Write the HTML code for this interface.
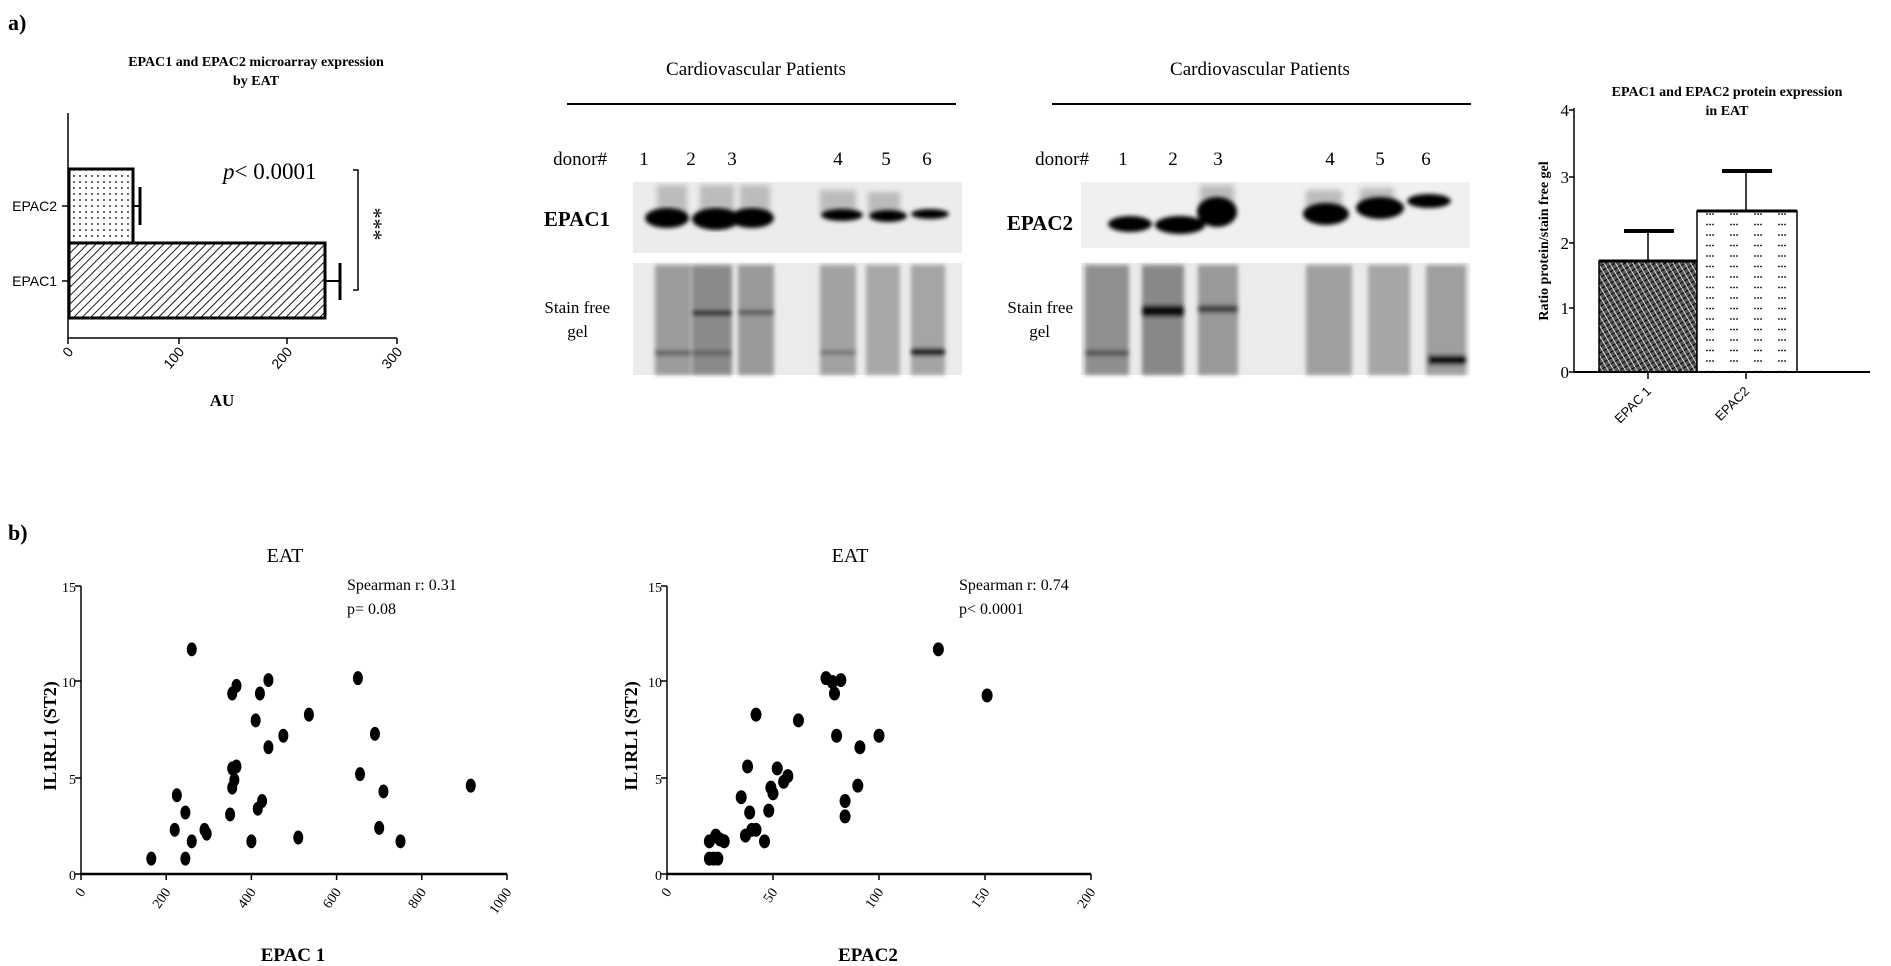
<!DOCTYPE html>
<html><head><meta charset="utf-8"><style>
html,body{margin:0;padding:0;background:#fff;}
svg{display:block;font-family:"Liberation Serif",serif;}
</style></head><body>
<svg id="s" width="1891" height="966" viewBox="0 0 1891 966" xmlns="http://www.w3.org/2000/svg">
<defs>
<pattern id="dots" width="6" height="6" patternUnits="userSpaceOnUse"><rect width="6" height="6" fill="#fff"/><circle cx="2" cy="2" r="0.9" fill="#000"/></pattern>
<pattern id="hatch" width="6" height="6" patternUnits="userSpaceOnUse" patternTransform="rotate(45)"><rect width="6" height="6" fill="#fff"/><line x1="0" y1="0" x2="0" y2="6" stroke="#000" stroke-width="1.8"/></pattern>
<pattern id="cross" width="5" height="5" patternUnits="userSpaceOnUse" patternTransform="rotate(60)"><rect width="5" height="5" fill="#555"/><line x1="0" y1="0" x2="0" y2="5" stroke="#000" stroke-width="2"/><line x1="0" y1="2.5" x2="5" y2="2.5" stroke="#fff" stroke-width="0.8"/></pattern>
<pattern id="dots2" width="24" height="10.5" patternUnits="userSpaceOnUse"><rect width="24" height="10.5" fill="#fff"/><circle cx="3" cy="4" r="0.9"/><circle cx="6" cy="4" r="0.9"/><circle cx="9" cy="4" r="0.9"/></pattern>
<filter id="b3"><feGaussianBlur stdDeviation="3"/></filter>
<filter id="b2"><feGaussianBlur stdDeviation="2"/></filter>
</defs>

<text x="8" y="30" font-size="22" font-weight="bold">a)</text>
<text x="8" y="540" font-size="22" font-weight="bold">b)</text>

<!-- Left horizontal bar chart -->
<g font-weight="bold">
<text x="256" y="66" font-size="14" text-anchor="middle">EPAC1 and EPAC2 microarray expression</text>
<text x="256" y="85" font-size="14" text-anchor="middle">by EAT</text>
</g>
<rect x="69" y="169" width="64" height="74" fill="url(#dots)" stroke="#000" stroke-width="3"/>
<rect x="69" y="243" width="256" height="75" fill="url(#hatch)" stroke="#000" stroke-width="3"/>
<line x1="133" y1="206" x2="140" y2="206" stroke="#000" stroke-width="2"/><line x1="140" y1="187" x2="140" y2="225" stroke="#000" stroke-width="3"/>
<line x1="325" y1="281" x2="340" y2="281" stroke="#000" stroke-width="2"/><line x1="340" y1="263" x2="340" y2="300" stroke="#000" stroke-width="3"/>
<line x1="68" y1="113" x2="68" y2="339" stroke="#000" stroke-width="1.5"/>
<line x1="68" y1="338" x2="397" y2="338" stroke="#000" stroke-width="1.5"/>
<g stroke="#000" stroke-width="1.5"><line x1="179" y1="338" x2="179" y2="344"/><line x1="287" y1="338" x2="287" y2="344"/><line x1="397" y1="338" x2="397" y2="344"/><line x1="68" y1="338" x2="68" y2="344"/><line x1="62" y1="206" x2="68" y2="206"/><line x1="62" y1="281" x2="68" y2="281"/></g>
<g font-family="Liberation Sans,sans-serif" font-size="14">
<text x="57" y="211" text-anchor="end">EPAC2</text>
<text x="57" y="286" text-anchor="end">EPAC1</text>
<text transform="translate(74,352) rotate(-50)" text-anchor="end">0</text>
<text transform="translate(185,352) rotate(-50)" text-anchor="end">100</text>
<text transform="translate(293,352) rotate(-50)" text-anchor="end">200</text>
<text transform="translate(403,352) rotate(-50)" text-anchor="end">300</text>
</g>
<text x="222" y="406" font-size="17" font-weight="bold" text-anchor="middle">AU</text>
<text x="223" y="179" font-size="23"><tspan font-style="italic">p</tspan>&lt; 0.0001</text>
<path d="M353 170 H358 V290 H353" fill="none" stroke="#000" stroke-width="1.5"/>
<text transform="translate(367,224) rotate(90)" font-size="22" text-anchor="middle">***</text>

<!-- Blot 1 -->
<text x="756" y="75" font-size="19" text-anchor="middle">Cardiovascular Patients</text>
<line x1="567" y1="104" x2="956" y2="104" stroke="#000" stroke-width="2"/>
<text x="607" y="165" font-size="19" text-anchor="end">donor#</text>
<g font-size="19" text-anchor="middle"><text x="644" y="165">1</text><text x="691" y="165">2</text><text x="732" y="165">3</text><text x="838" y="165">4</text><text x="886" y="165">5</text><text x="927" y="165">6</text></g>
<text x="610" y="226" font-size="21" font-weight="bold" text-anchor="end">EPAC1</text>
<text x="610" y="313" font-size="17" text-anchor="end">Stain free</text>
<text x="588" y="337" font-size="17" text-anchor="end">gel</text>
<rect x="633" y="182" width="329" height="71" fill="#ececec"/>
<g filter="url(#b3)" fill="#bbb"><rect x="657" y="185" width="30" height="30"/><rect x="700" y="185" width="34" height="30"/><rect x="740" y="185" width="30" height="30"/><rect x="820" y="190" width="36" height="24"/><rect x="868" y="192" width="32" height="22"/></g>
<g filter="url(#b2)" fill="#000"><ellipse cx="667" cy="218" rx="22" ry="10"/><ellipse cx="716" cy="219" rx="24" ry="11"/><ellipse cx="752" cy="218" rx="22" ry="10"/><ellipse cx="842" cy="215" rx="21" ry="6"/><ellipse cx="888" cy="216" rx="19" ry="6"/><ellipse cx="930" cy="214" rx="19" ry="5"/></g>
<rect x="633" y="263" width="329" height="112" fill="#ebebeb"/>
<g filter="url(#b2)">
<rect x="655" y="265" width="36" height="110" fill="#9c9c9c"/><rect x="692" y="265" width="40" height="110" fill="#8a8a8a"/><rect x="738" y="265" width="36" height="110" fill="#999"/>
<rect x="820" y="265" width="36" height="110" fill="#a2a2a2"/><rect x="866" y="265" width="34" height="110" fill="#a8a8a8"/><rect x="911" y="265" width="34" height="110" fill="#a5a5a5"/>
<rect x="692" y="310" width="40" height="6" fill="#333"/><rect x="738" y="310" width="36" height="5" fill="#555"/><rect x="911" y="348" width="34" height="8" fill="#222"/>
<rect x="655" y="350" width="36" height="6" fill="#666"/><rect x="692" y="350" width="40" height="6" fill="#666"/><rect x="820" y="350" width="36" height="5" fill="#777"/>
</g>

<!-- Blot 2 -->
<text x="1260" y="75" font-size="19" text-anchor="middle">Cardiovascular Patients</text>
<line x1="1052" y1="104" x2="1471" y2="104" stroke="#000" stroke-width="2"/>
<text x="1089" y="165" font-size="19" text-anchor="end">donor#</text>
<g font-size="19" text-anchor="middle"><text x="1123" y="165">1</text><text x="1173" y="165">2</text><text x="1218" y="165">3</text><text x="1330" y="165">4</text><text x="1380" y="165">5</text><text x="1426" y="165">6</text></g>
<text x="1073" y="230" font-size="21" font-weight="bold" text-anchor="end">EPAC2</text>
<text x="1073" y="313" font-size="17" text-anchor="end">Stain free</text>
<text x="1050" y="337" font-size="17" text-anchor="end">gel</text>
<rect x="1081" y="182" width="389" height="66" fill="#f0f0f0"/>
<g filter="url(#b3)" fill="#bbb"><rect x="1200" y="185" width="34" height="30"/><rect x="1306" y="190" width="36" height="24"/><rect x="1360" y="188" width="34" height="22"/></g>
<g filter="url(#b2)" fill="#000"><ellipse cx="1130" cy="224" rx="22" ry="8"/><ellipse cx="1180" cy="225" rx="25" ry="9"/><ellipse cx="1217" cy="212" rx="20" ry="15"/><ellipse cx="1326" cy="214" rx="23" ry="11"/><ellipse cx="1380" cy="208" rx="24" ry="11"/><ellipse cx="1429" cy="201" rx="22" ry="7"/></g>
<rect x="1081" y="263" width="389" height="112" fill="#ebebeb"/>
<g filter="url(#b2)">
<rect x="1085" y="265" width="44" height="110" fill="#8f8f8f"/><rect x="1142" y="265" width="42" height="110" fill="#888"/><rect x="1198" y="265" width="40" height="110" fill="#999"/>
<rect x="1306" y="265" width="46" height="110" fill="#a0a0a0"/><rect x="1368" y="265" width="42" height="110" fill="#a6a6a6"/><rect x="1426" y="265" width="40" height="110" fill="#9f9f9f"/>
<rect x="1142" y="305" width="42" height="12" fill="#111"/><rect x="1198" y="305" width="40" height="8" fill="#444"/><rect x="1428" y="355" width="38" height="10" fill="#111"/><rect x="1085" y="350" width="44" height="6" fill="#555"/>
</g>

<!-- Right bar chart -->
<g font-weight="bold"><text x="1727" y="96" font-size="14" text-anchor="middle">EPAC1 and EPAC2 protein expression</text>
<text x="1727" y="115" font-size="14" text-anchor="middle">in EAT</text></g>
<rect x="1599" y="261" width="98" height="111" fill="url(#cross)" stroke="#000" stroke-width="1.5"/>
<rect x="1697" y="211" width="100" height="161" fill="url(#dots2)" stroke="#000" stroke-width="1.5"/>
<line x1="1599" y1="261" x2="1697" y2="261" stroke="#000" stroke-width="3"/>
<line x1="1697" y1="211" x2="1797" y2="211" stroke="#000" stroke-width="3"/>
<line x1="1648" y1="261" x2="1648" y2="231" stroke="#000" stroke-width="1.5"/><line x1="1624" y1="231" x2="1674" y2="231" stroke="#000" stroke-width="4"/>
<line x1="1746" y1="211" x2="1746" y2="171" stroke="#000" stroke-width="1.5"/><line x1="1722" y1="171" x2="1772" y2="171" stroke="#000" stroke-width="4"/>
<line x1="1574" y1="108" x2="1574" y2="373" stroke="#000" stroke-width="1.5"/>
<line x1="1574" y1="372" x2="1870" y2="372" stroke="#000" stroke-width="2"/>
<g stroke="#000" stroke-width="1.5"><line x1="1569" y1="110" x2="1574" y2="110"/><line x1="1569" y1="177" x2="1574" y2="177"/><line x1="1569" y1="243" x2="1574" y2="243"/><line x1="1569" y1="308" x2="1574" y2="308"/><line x1="1569" y1="372" x2="1574" y2="372"/><line x1="1648" y1="372" x2="1648" y2="379"/><line x1="1746" y1="372" x2="1746" y2="379"/></g>
<g font-size="17" text-anchor="end"><text x="1569" y="116">4</text><text x="1569" y="183">3</text><text x="1569" y="249">2</text><text x="1569" y="314">1</text><text x="1569" y="378">0</text></g>
<text transform="translate(1548,241) rotate(-90)" font-size="14" font-weight="bold" text-anchor="middle">Ratio protein/stain free gel</text>
<g font-family="Liberation Sans,sans-serif" font-size="13"><text transform="translate(1652,392) rotate(-45)" text-anchor="end">EPAC 1</text><text transform="translate(1750,392) rotate(-45)" text-anchor="end">EPAC2</text></g>

<!-- Scatter 1 -->
<text x="285" y="562" font-size="20" text-anchor="middle">EAT</text>
<text x="347" y="590" font-size="16">Spearman r: 0.31</text>
<text x="347" y="614" font-size="16">p= 0.08</text>
<line x1="81" y1="586" x2="81" y2="875" stroke="#000" stroke-width="1.5"/>
<line x1="81" y1="874" x2="507" y2="874" stroke="#000" stroke-width="2.5"/>
<g id="t1" stroke="#000" stroke-width="1.5"></g>
<g font-size="14" text-anchor="end"><text x="76" y="592">15</text><text x="76" y="687">10</text><text x="76" y="784">5</text><text x="76" y="880">0</text></g>
<g id="xl1" font-size="14"></g>
<text transform="translate(56,736) rotate(-90)" font-size="18" font-weight="bold" text-anchor="middle">IL1RL1 (ST2)</text>
<text x="293" y="961" font-size="19" font-weight="bold" text-anchor="middle">EPAC 1</text>
<g id="p1"></g>

<!-- Scatter 2 -->
<text x="850" y="562" font-size="20" text-anchor="middle">EAT</text>
<text x="959" y="590" font-size="16">Spearman r: 0.74</text>
<text x="959" y="614" font-size="16">p&lt; 0.0001</text>
<line x1="667" y1="586" x2="667" y2="875" stroke="#000" stroke-width="1.5"/>
<line x1="667" y1="874" x2="1091" y2="874" stroke="#000" stroke-width="2.5"/>
<g id="t2" stroke="#000" stroke-width="1.5"></g>
<g font-size="14" text-anchor="end"><text x="662" y="592">15</text><text x="662" y="687">10</text><text x="662" y="784">5</text><text x="662" y="880">0</text></g>
<g id="xl2" font-size="14"></g>
<text transform="translate(637,736) rotate(-90)" font-size="18" font-weight="bold" text-anchor="middle">IL1RL1 (ST2)</text>
<text x="868" y="961" font-size="19" font-weight="bold" text-anchor="middle">EPAC2</text>
<g id="p2"></g>
</svg>
<script>
var NS="http://www.w3.org/2000/svg";
function el(p,t,a,txt){var e=document.createElementNS(NS,t);for(var k in a)e.setAttribute(k,a[k]);if(txt!==undefined)e.textContent=txt;document.getElementById(p).appendChild(e);}
function ax(tid,xid,x0,x1,max,step){
 for(var v=0;v<=max;v+=step){var x=x0+(x1-x0)*v/max;el(tid,"line",{x1:x,y1:874,x2:x,y2:880});el(xid,"text",{transform:"translate("+(x+5)+",892) rotate(-55)","text-anchor":"end"},String(v));}
 [586,681,778,874].forEach(function(y){el(tid,"line",{x1:(tid=="t1"?75:661),y1:y,x2:(tid=="t1"?81:667),y2:y});});
}
ax("t1","xl1",81,507,1000,200);ax("t2","xl2",667,1091,200,50);
function Y(v){return 874-v*19.2;}
var d1=[[165,0.8],[245,0.8],[220,2.3],[225,4.1],[245,3.2],[260,1.7],[290,2.3],[295,2.1],[260,11.7],[350,3.1],[355,4.5],[360,4.9],[355,5.5],[365,5.6],[355,9.4],[365,9.8],[400,1.7],[415,3.4],[425,3.8],[410,8.0],[420,9.4],[440,6.6],[440,10.1],[475,7.2],[510,1.9],[535,8.3],[650,10.2],[655,5.2],[690,7.3],[700,2.4],[710,4.3],[750,1.7],[915,4.6]];
var d2=[[20,0.8],[22,0.8],[24,0.8],[20,1.7],[23,2.0],[25,1.8],[27,1.7],[35,4.0],[37,2.0],[38,5.6],[39,3.2],[40,2.3],[42,2.3],[42,8.3],[46,1.7],[48,3.3],[49,4.5],[50,4.2],[52,5.5],[55,4.8],[57,5.1],[62,8.0],[75,10.2],[78,10.0],[79,9.4],[80,7.2],[82,10.1],[84,3.8],[84,3.0],[90,4.6],[91,6.6],[100,7.2],[128,11.7],[151,9.3]];
d1.forEach(function(p){el("p1","ellipse",{cx:81+p[0]*0.426,cy:Y(p[1]),rx:5,ry:7});});
d2.forEach(function(p){el("p2","ellipse",{cx:667+p[0]*2.12,cy:Y(p[1]),rx:5.5,ry:7});});
</script>
</body></html>
